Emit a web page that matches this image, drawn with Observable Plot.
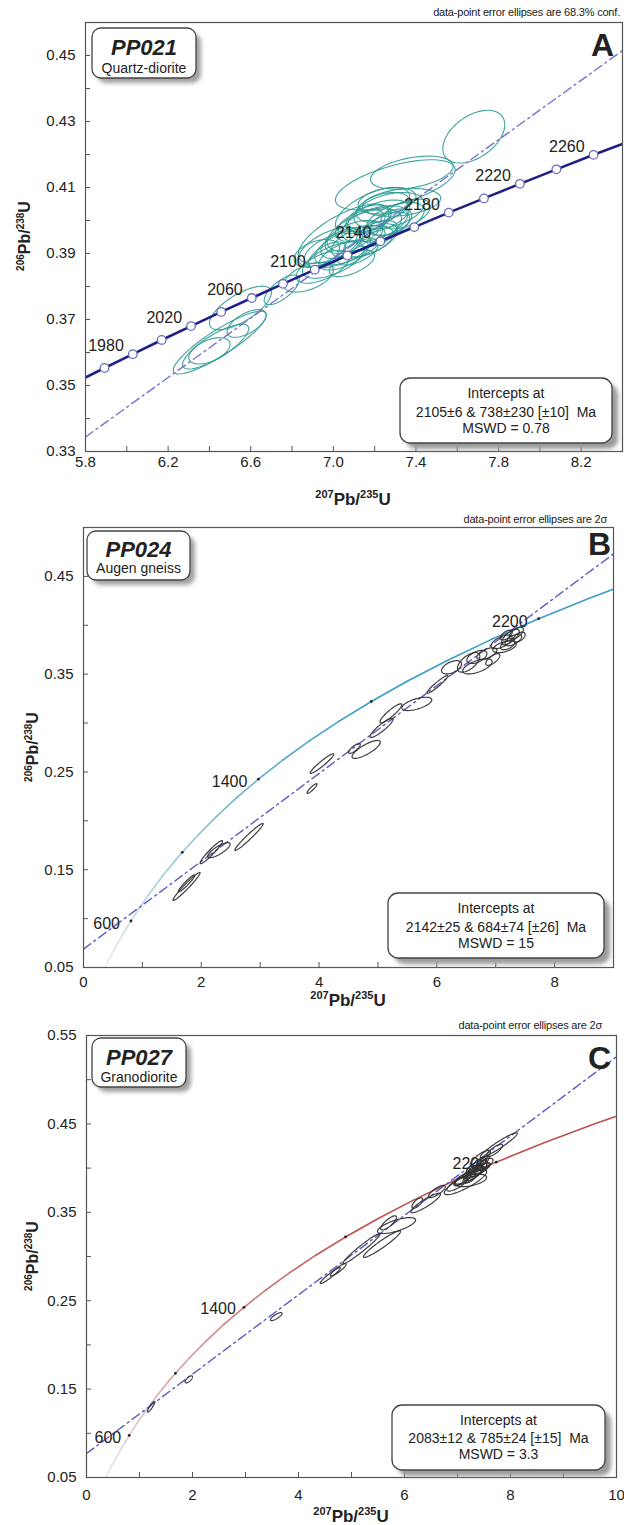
<!DOCTYPE html>
<html><head><meta charset="utf-8">
<script src="https://cdn.jsdelivr.net/npm/d3@7"></script>
<script src="https://cdn.jsdelivr.net/npm/@observablehq/plot@0.6"></script>
<style>
body{margin:0;background:#fff}
#wrap{position:relative;width:624px;height:1525px;overflow:hidden;font-family:"Liberation Sans",Arial,sans-serif}
#wrap svg{position:absolute;left:0}
</style></head><body><div id="wrap"></div>
<script>
// ---------- DATA ----------
// Panel A concordia (ages, 207Pb/235U, 206Pb/238U)
const ageA   = [1940,1960,1980,2000,2020,2040,2060,2080,2100,2120,2140,2160,2180,2200,2220,2240,2260,2280];
const x207A  = [5.757,5.892,6.029,6.169,6.311,6.457,6.605,6.756,6.910,7.068,7.228,7.392,7.559,7.729,7.903,8.080,8.260,8.445];
const y206A  = [0.3511,0.3553,0.3595,0.3638,0.3680,0.3723,0.3765,0.3808,0.3851,0.3894,0.3937,0.3980,0.4024,0.4067,0.4111,0.4155,0.4199,0.4243];
const markAgesA  = [1960,1980,2000,2020,2040,2060,2080,2100,2120,2140,2160,2180,2200,2220,2240,2260];
const labelAgesA = [1980,2020,2060,2100,2140,2180,2220,2260];

// Panels B, C concordia
const ageBC  = [300,350,400,450,500,550,600,650,700,750,800,850,900,950,1000,1100,1200,1300,1400,1500,1600,1700,1800,1900,2000,2100,2200,2300,2400,2500];
const x207BC = [0.3437,0.4116,0.4828,0.5577,0.6363,0.7189,0.8056,0.8968,0.9925,1.0930,1.1987,1.3097,1.4262,1.5487,1.6774,1.9545,2.2603,2.5977,2.9701,3.3810,3.8344,4.3348,4.8869,5.4962,6.1685,6.9105,7.7291,8.6326,9.6298,10.7297];
const y206BC = [0.04764,0.05580,0.06402,0.07230,0.08065,0.08906,0.09754,0.10609,0.11470,0.12338,0.13213,0.14094,0.14983,0.15878,0.16780,0.18606,0.20460,0.22343,0.24256,0.26198,0.28171,0.30175,0.32210,0.34277,0.36377,0.38509,0.40674,0.42873,0.45107,0.47375];
const markAgesBC  = [600,1000,1400,1800,2200];
const labelAgesBC = [600,1400,2200];

// Discordia lines (end points)
const discAx = [5.8, 8.4],  discAy = [0.3344, 0.4515];
const discBx = [0, 9],      discBy = [0.0688, 0.4730];
const discCx = [0, 10],     discCy = [0.0771, 0.5260];

// Error ellipses: [207/235 centre, 206/238 centre, half-range x, half-range y, rho]
const ellipsesA = [
  [6.45,0.3630,0.225,0.0095,0.88],[6.40,0.3605,0.10,0.0040,0.5],[6.43,0.3618,0.16,0.0068,0.8],
  [6.58,0.3688,0.095,0.0042,0.6],[6.55,0.3735,0.15,0.0066,0.7],[6.75,0.3790,0.085,0.0045,0.7],
  [6.88,0.3828,0.12,0.0045,0.5],[6.92,0.3900,0.11,0.0042,0.4],[6.95,0.3860,0.13,0.0050,0.6],
  [7.00,0.3880,0.15,0.0055,0.6],[7.02,0.3912,0.16,0.0055,0.5],[7.05,0.3895,0.12,0.0045,0.6],
  [7.08,0.3925,0.17,0.0060,0.6],[7.10,0.3950,0.14,0.0050,0.5],[7.12,0.3905,0.10,0.0040,0.6],
  [7.15,0.3970,0.18,0.0065,0.55],[7.18,0.3940,0.13,0.0050,0.6],[7.20,0.3990,0.16,0.0055,0.5],
  [7.22,0.4012,0.15,0.0050,0.5],[7.25,0.3980,0.12,0.0045,0.6],[7.27,0.4030,0.17,0.0055,0.4],
  [7.30,0.4005,0.14,0.0050,0.5],[7.33,0.4055,0.19,0.0042,0.3],[7.35,0.4020,0.12,0.0045,0.5],
  [7.30,0.4108,0.29,0.0076,0.6],[7.38,0.4145,0.20,0.0050,0.4],[7.68,0.4254,0.15,0.0080,0.45],
  [7.19,0.4030,0.18,0.0070,0.6],[7.05,0.3960,0.22,0.0090,0.7],[6.98,0.3920,0.15,0.0060,0.6],
  [7.04,0.3930,0.10,0.0045,0.5],[7.13,0.3985,0.12,0.0048,0.5],[7.17,0.4005,0.11,0.0042,0.4],
  [7.24,0.4040,0.13,0.0045,0.4],[7.09,0.3870,0.11,0.0040,0.6],[7.21,0.3960,0.10,0.0040,0.5],
  [7.28,0.3995,0.10,0.0040,0.5],[6.97,0.3895,0.09,0.0040,0.6],[7.14,0.3935,0.15,0.0050,0.5],
  [7.26,0.4060,0.14,0.0040,0.3]
];
const ellipsesB = [
  [1.75,0.1329,0.23,0.0143,0.97],[1.75,0.1360,0.14,0.0087,0.95],[2.17,0.1680,0.19,0.0118,0.95],
  [2.30,0.1700,0.19,0.0077,0.8],[2.81,0.1835,0.24,0.0138,0.97],[3.88,0.2330,0.085,0.0050,0.9],
  [4.05,0.2585,0.20,0.0100,0.95],[4.60,0.2740,0.10,0.0050,0.8],[4.80,0.2730,0.24,0.0092,0.8],
  [5.06,0.2950,0.195,0.0097,0.9],[5.22,0.3100,0.186,0.0097,0.9],[5.66,0.3196,0.254,0.0068,0.6],
  [6.01,0.3395,0.18,0.0092,0.95],[6.25,0.3570,0.17,0.0068,0.5],[6.54,0.3620,0.19,0.0100,0.6],
  [6.69,0.3580,0.25,0.0077,0.6],[6.68,0.3676,0.17,0.0067,0.5],[6.85,0.3710,0.17,0.0060,0.6],
  [7.15,0.3780,0.20,0.0060,0.5],[7.25,0.3880,0.15,0.0080,0.7],[7.10,0.3830,0.18,0.0070,0.6],
  [7.35,0.3920,0.12,0.0060,0.6],[7.20,0.3800,0.12,0.0050,0.5],[6.95,0.3650,0.12,0.0060,0.7],
  [7.30,0.3850,0.14,0.0060,0.6],[7.18,0.3900,0.10,0.0050,0.6],[7.40,0.3880,0.10,0.0050,0.5]
];
const ellipsesC = [
  [1.22,0.1300,0.07,0.0060,0.9],[1.93,0.1610,0.07,0.0040,0.7],[3.58,0.2320,0.11,0.0045,0.8],
  [4.60,0.2785,0.19,0.0090,0.95],[4.75,0.2850,0.15,0.0070,0.9],[5.19,0.3090,0.35,0.0170,0.97],
  [5.575,0.3140,0.35,0.0150,0.95],[5.85,0.3350,0.36,0.0090,0.7],[5.70,0.3380,0.15,0.0080,0.8],
  [6.24,0.3605,0.10,0.0060,0.7],[6.40,0.3605,0.28,0.0110,0.9],[6.61,0.3735,0.16,0.0070,0.8],
  [7.15,0.3840,0.40,0.0140,0.85],[7.00,0.3820,0.20,0.0080,0.8],[7.20,0.3900,0.25,0.0090,0.8],
  [7.30,0.3950,0.20,0.0070,0.7],[7.40,0.3980,0.22,0.0080,0.8],[7.10,0.3880,0.15,0.0060,0.7],
  [7.35,0.4020,0.18,0.0070,0.8],[7.50,0.4040,0.17,0.0070,0.7],[7.43,0.4110,0.19,0.0090,0.8],
  [7.25,0.3860,0.30,0.0070,0.5],[7.78,0.4260,0.35,0.0140,0.95],[7.70,0.4200,0.15,0.0070,0.8],
  [7.28,0.3920,0.16,0.0060,0.7],[7.38,0.3960,0.14,0.0055,0.7],[7.45,0.4000,0.15,0.0060,0.7],
  [7.22,0.3880,0.12,0.0050,0.6],[7.33,0.3990,0.12,0.0050,0.6],[7.48,0.4080,0.12,0.0060,0.7],
  [7.05,0.3850,0.12,0.0050,0.7],[7.40,0.4060,0.10,0.0050,0.6]
];

// Axis ticks
const xTicksA = [5.8,6.2,6.6,7.0,7.4,7.8,8.2];
const xMinorA = [5.8,6.0,6.2,6.4,6.6,6.8,7.0,7.2,7.4,7.6,7.8,8.0,8.2,8.4];
const yTicksA = [0.33,0.35,0.37,0.39,0.41,0.43,0.45];
const yMinorA = [0.33,0.34,0.35,0.36,0.37,0.38,0.39,0.40,0.41,0.42,0.43,0.44,0.45,0.46];
const xTicksB = [0,2,4,6,8];
const xMinorB = [0,1,2,3,4,5,6,7,8,9];
const yTicksB = [0.05,0.15,0.25,0.35,0.45];
const yMinorB = [0.05,0.10,0.15,0.20,0.25,0.30,0.35,0.40,0.45,0.50];
const xTicksC = [0,2,4,6,8,10];
const xMinorC = [0,1,2,3,4,5,6,7,8,9,10];
const yTicksC = [0.05,0.15,0.25,0.35,0.45,0.55];
const yMinorC = [0.05,0.10,0.15,0.20,0.25,0.30,0.35,0.40,0.45,0.50,0.55];

// Texts
const sampleNames = ["PP021","PP024","PP027"];
const rockTypes   = ["Quartz-diorite","Augen gneiss","Granodiorite"];
const interceptTexts = ["2105±6 & 738±230 [±10]\u00a0 Ma","2142±25 & 684±74 [±26]\u00a0 Ma","2083±12 & 785±24 [±15]\u00a0 Ma"];
const mswdTexts   = ["MSWD = 0.78","MSWD = 15","MSWD = 3.3"];
const captions    = ["data-point error ellipses are 68.3% conf.","data-point error ellipses are 2σ","data-point error ellipses are 2σ"];
const panelLetters = ["A","B","C"];

// ---------- DRAWING ----------
const FONT = '"Liberation Sans", Arial, Helvetica, sans-serif';
const esc = t => String(t).replace(/&/g, "&amp;").replace(/</g, "&lt;");

function ellipseOutline(list, n = 72) {
  const pts = [];
  list.forEach(([x, y, sx, sy, r], id) => {
    const q = Math.sqrt(1 - r * r);
    for (let i = 0; i < n; i++) {
      const t = 2 * Math.PI * i / n;
      pts.push({id, x: x + sx * Math.cos(t), y: y + sy * (r * Math.cos(t) + q * Math.sin(t))});
    }
  });
  return pts;
}

function panel(cfg) {
  const W = 624;
  const innerH = cfg.height - cfg.mt - cfg.mb, innerW = W - cfg.ml - cfg.mr;
  const conc = cfg.ages.map((a, i) => ({age: a, x: cfg.cx[i], y: cfg.cy[i]}));
  const marksD = conc.filter(d => cfg.markAges.includes(d.age));
  const labelsD = conc.filter(d => cfg.labelAges.includes(d.age));
  const disc = cfg.dx.map((x, i) => ({x, y: cfg.dy[i]}));
  const ell = ellipseOutline(cfg.ellipses);

  const ellMark = Plot.line(ell, {x: "x", y: "y", z: "id", curve: "linear-closed", stroke: cfg.ellStroke, strokeWidth: cfg.ellWidth, strokeOpacity: cfg.ellOpacity, clip: true});
  const discMark = Plot.line(disc, {x: "x", y: "y", stroke: cfg.discStroke, strokeWidth: 1.4, strokeDasharray: "9,4,2,4", clip: true});
  const concMark = cfg.gradient
    ? Plot.line(conc, {x: "x", y: "y", z: null, stroke: "age", strokeWidth: 1.6, clip: true})
    : Plot.line(conc, {x: "x", y: "y", stroke: cfg.concStroke, strokeWidth: 2.6, clip: true});
  const dotMark = cfg.gradient
    ? Plot.dot(marksD, {x: "x", y: "y", r: 1.4, fill: "#222", stroke: null})
    : Plot.dot(marksD, {x: "x", y: "y", r: 4.3, fill: "white", stroke: "#6d6db8", strokeWidth: 1.3, clip: true});
  const labMark = Plot.text(labelsD, {x: "x", y: "y", text: d => String(d.age), textAnchor: "end", dx: cfg.ldx, dy: cfg.ldy, fontSize: 16, fill: "#222"});

  const layers = cfg.gradient
    ? [concMark, discMark, labMark, dotMark, ellMark]
    : [ellMark, discMark, concMark, dotMark, labMark];

  const svg = Plot.plot({
    width: W, height: cfg.height,
    marginTop: cfg.mt, marginBottom: cfg.mb, marginLeft: cfg.ml, marginRight: cfg.mr,
    style: {fontFamily: FONT, fontSize: "15px", color: "#222", background: "transparent", overflow: "visible"},
    x: {domain: cfg.xd},
    y: {domain: cfg.yd},
    color: cfg.gradient ? {type: "linear", domain: cfg.gradDomain, range: cfg.gradRange, clamp: true} : undefined,
    marks: [
      ...layers,
      Plot.tickX(cfg.xMinor, {x: d => d, insetTop: innerH - 5, stroke: "#555"}),
      Plot.tickY(cfg.yMinor, {y: d => d, insetRight: innerW - 5, stroke: "#555"}),
      Plot.axisX(cfg.xTicks, {anchor: "bottom", tickSize: 0, tickPadding: cfg.xPad, tickFormat: cfg.xFmt, label: null, fontSize: 15, fill: "#222"}),
      Plot.axisY(cfg.yTicks, {anchor: "left", tickSize: 0, tickPadding: 10, tickFormat: d => d.toFixed(2), label: null, fontSize: 15, fill: "#222"}),
      Plot.frame({stroke: "#555", strokeWidth: 1.2})
    ]
  });
  svg.style.top = cfg.top + "px";
  return svg;
}

const wrap = document.getElementById("wrap");

wrap.appendChild(panel({
  top: 0, height: 505, mt: 22, mb: 54, ml: 85, mr: 2,
  xd: [5.8, 8.4], yd: [0.33, 0.46],
  ages: ageA, cx: x207A, cy: y206A, markAges: markAgesA, labelAges: labelAgesA,
  dx: discAx, dy: discAy, ellipses: ellipsesA,
  ellStroke: "#2a9a92", ellWidth: 1.1, ellOpacity: 0.9,
  discStroke: "#7a70cc", concStroke: "#1f1f88", gradient: false,
  ldx: -9, ldy: -8,
  xTicks: xTicksA, xMinor: xMinorA, yTicks: yTicksA, yMinor: yMinorA, xPad: 5, xFmt: d => d.toFixed(1)
}));

wrap.appendChild(panel({
  top: 505, height: 505, mt: 22, mb: 43, ml: 83, mr: 11,
  xd: [0, 9], yd: [0.05, 0.50],
  ages: ageBC, cx: x207BC, cy: y206BC, markAges: markAgesBC, labelAges: labelAgesBC,
  dx: discBx, dy: discBy, ellipses: ellipsesB,
  ellStroke: "#333", ellWidth: 1.2, ellOpacity: 0.95,
  discStroke: "#5a5ac4", gradient: true, gradDomain: [300, 1700], gradRange: ["#ececec", "#3b9cc8"],
  ldx: -11, ldy: 3,
  xTicks: xTicksB, xMinor: xMinorB, yTicks: yTicksB, yMinor: yMinorB, xPad: 9, xFmt: d => String(d)
}));

wrap.appendChild(panel({
  top: 1010, height: 515, mt: 25, mb: 48, ml: 86, mr: 8,
  xd: [0, 10], yd: [0.05, 0.55],
  ages: ageBC, cx: x207BC, cy: y206BC, markAges: markAgesBC, labelAges: labelAgesBC,
  dx: discCx, dy: discCy, ellipses: ellipsesC,
  ellStroke: "#333", ellWidth: 1.2, ellOpacity: 0.95,
  discStroke: "#5a5ac4", gradient: true, gradDomain: [300, 1800], gradRange: ["#e8e8e8", "#c0504d"],
  ldx: -8, ldy: 2,
  xTicks: xTicksC, xMinor: xMinorC, yTicks: yTicksC, yMinor: yMinorC, xPad: 12, xFmt: d => String(d)
}));

// ---------- ANNOTATION OVERLAY ----------
const layout = [
  {cap: [620, 16], sbox: [92, 28, 104, 50], sName: 55, sRock: 73, letter: [614, 56],
   ibox: [400, 378, 212, 65], iLines: [398, 417, 433], xt: [353, 505], yt: [30, 236]},
  {cap: [607, 523], sbox: [87, 531, 103, 49], sName: 557, sRock: 573, letter: [611, 555],
   ibox: [388, 893, 216, 65], iLines: [913, 932, 948], xt: [348, 1006], yt: [38, 747]},
  {cap: [602, 1029], sbox: [92, 1038, 94, 49], sName: 1065, sRock: 1082, letter: [611, 1069],
   ibox: [392, 1405, 213, 65], iLines: [1425, 1443, 1459], xt: [351, 1522], yt: [38, 1256]}
];

let s = `<svg width="624" height="1525" style="top:0" font-family='${FONT}' fill="#222">
<defs><filter id="sh" x="-20%" y="-30%" width="140%" height="160%"><feGaussianBlur stdDeviation="2.2"/></filter></defs>`;
layout.forEach((L, i) => {
  const [bx, by, bw, bh] = L.sbox;
  const [ix, iy, iw, ih] = L.ibox;
  s += `<text x="${L.cap[0]}" y="${L.cap[1]}" text-anchor="end" font-size="11" letter-spacing="-0.2">${esc(captions[i])}</text>`;
  s += `<rect x="${bx + 5}" y="${by + 5}" width="${bw}" height="${bh}" rx="9" fill="#a0a0a0" filter="url(#sh)"/>`;
  s += `<rect x="${bx}" y="${by}" width="${bw}" height="${bh}" rx="9" fill="#fff" stroke="#444" stroke-width="1.3"/>`;
  s += `<text x="${bx + bw / 2}" y="${L.sName}" text-anchor="middle" font-size="22" font-weight="bold" font-style="italic">${esc(sampleNames[i])}</text>`;
  s += `<text x="${bx + bw / 2}" y="${L.sRock}" text-anchor="middle" font-size="14">${esc(rockTypes[i])}</text>`;
  s += `<text x="${L.letter[0]}" y="${L.letter[1]}" text-anchor="end" font-size="32" font-weight="bold">${panelLetters[i]}</text>`;
  s += `<rect x="${ix + 6}" y="${iy + 6}" width="${iw}" height="${ih}" rx="10" fill="#9a9a9a" filter="url(#sh)"/>`;
  s += `<rect x="${ix}" y="${iy}" width="${iw}" height="${ih}" rx="10" fill="#fff" stroke="#444" stroke-width="1.3"/>`;
  const cx = ix + iw / 2;
  s += `<text x="${cx}" y="${L.iLines[0]}" text-anchor="middle" font-size="14">Intercepts at</text>`;
  s += `<text x="${cx}" y="${L.iLines[1]}" text-anchor="middle" font-size="14">${esc(interceptTexts[i])}</text>`;
  s += `<text x="${cx}" y="${L.iLines[2]}" text-anchor="middle" font-size="14">${esc(mswdTexts[i])}</text>`;
  s += `<text x="${L.xt[0]}" y="${L.xt[1]}" text-anchor="middle" font-size="17" font-weight="bold"><tspan font-size="11" dy="-7">207</tspan><tspan dy="7">Pb/</tspan><tspan font-size="11" dy="-7">235</tspan><tspan dy="7">U</tspan></text>`;
  s += `<text transform="translate(${L.yt[0]},${L.yt[1]}) rotate(-90)" text-anchor="middle" font-size="16" font-weight="bold"><tspan font-size="10" dy="-6">206</tspan><tspan dy="6">Pb/</tspan><tspan font-size="10" dy="-6">238</tspan><tspan dy="6">U</tspan></text>`;
});
s += `</svg>`;
wrap.insertAdjacentHTML("beforeend", s);
</script>
</body></html>
